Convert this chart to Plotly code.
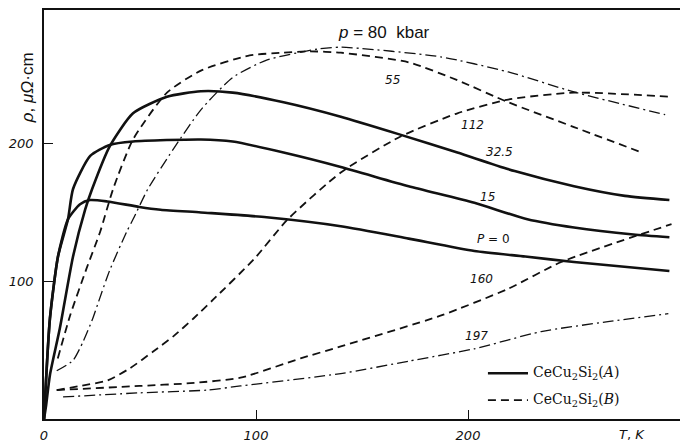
import plotly.graph_objects as go

# ---- data (T in K, rho in micro-ohm cm) ----
T_p0 = [0, 2.8, 6.6, 11.3, 17, 21.7, 29.8, 45, 55, 74, 105, 140, 172, 203, 227, 250, 295]
R_p0 = [0, 73, 118, 145, 156, 159, 158, 154, 152, 150, 146.5, 140, 131, 122, 118, 114, 107.5]

T_p15 = [0, 2.8, 6.6, 11.3, 13.7, 21.8, 31, 42, 74, 89, 113, 140, 172, 203, 228, 250, 278, 295]
R_p15 = [0, 73, 118, 145, 167, 191, 199, 201.5, 203, 201.5, 193.5, 183, 169, 157, 145, 139, 134, 132]

T_p32 = [0, 1, 2.8, 7.5, 13.7, 19.4, 22.7, 31, 42, 58, 74, 89, 113, 140, 168, 195, 222, 250, 274, 295]
R_p32 = [0, 10, 32, 66, 118, 152, 167, 198, 222, 234, 238, 237, 230, 219.5, 206.5, 193.5, 180, 169, 162, 159]

T_p55 = [6.5, 12.5, 20, 26.5, 32.6, 42, 58, 74, 97, 113, 125, 140, 172, 195, 219, 250, 282]
R_p55 = [44, 76, 109, 136, 167, 203, 237, 253, 264, 266, 267, 266, 259, 246, 230, 212, 193.5]

T_p80 = [6, 13.7, 18.4, 23, 25.7, 31, 39, 42, 49, 61, 74, 89, 105, 129, 140, 187, 219, 250, 293]
R_p80 = [35, 42.6, 56, 73, 85, 108, 136, 145, 167, 196, 224.5, 248, 260.6, 268.6, 270, 263, 252, 237.5, 221]

T_p112 = [6, 17, 30, 40.7, 51.5, 61, 70.5, 80, 99, 115, 140, 168, 195, 219, 250, 296]
R_p112 = [21, 24, 28, 37, 49, 60, 73, 87, 116, 145, 179, 205, 222, 232, 237, 234]

T_p160 = [6, 45, 69, 92.7, 121, 140, 187, 219, 244, 296]
R_p160 = [21, 24, 26, 30, 44, 52.7, 75, 94.6, 114, 141.5]

T_p197 = [9, 45, 77, 92.7, 140, 172, 203, 234.5, 266, 294.5]
R_p197 = [16, 19, 21, 24, 33, 42, 51, 63.5, 70.7, 76.5]

curve_labels = ["55", "112", "32.5", "15", "<i>P</i> = 0", "160", "197"]
label_T = [164.6, 201.9, 215, 209.4, 211.8, 206.6, 204.2]
label_R = [246, 213.7, 194, 161, 130.7, 101.8, 60]

x_ticks = [0, 100, 200]
y_ticks = [100, 200]

INK = "#111111"
SOLID = dict(color=INK, width=2.6)
DASHED = dict(color=INK, width=1.8, dash="8px,5px")
DASHDOT = dict(color=INK, width=1.3, dash="11px,4px,2px,4px")

fig = go.Figure()

def add(T, R, line):
    fig.add_trace(go.Scatter(x=T, y=R, mode="lines", line=dict(shape="spline", smoothing=0.6, **line),
                             showlegend=False, hoverinfo="skip"))

add(T_p0, R_p0, SOLID)
add(T_p15, R_p15, SOLID)
add(T_p32, R_p32, SOLID)
add(T_p55, R_p55, DASHED)
add(T_p80, R_p80, DASHDOT)
add(T_p112, R_p112, DASHED)
add(T_p160, R_p160, DASHED)
add(T_p197, R_p197, DASHDOT)

for txt, tx, ry in zip(curve_labels, label_T, label_R):
    fig.add_annotation(x=tx, y=ry, text=f"<i>{txt}</i>" if "<i>" not in txt else txt,
                       showarrow=False, font=dict(family="DejaVu Sans", size=12, color=INK))

# title-like annotation
fig.add_annotation(x=160.4, y=281, text="<i>p</i> = 80  kbar", showarrow=False,
                   font=dict(family="Liberation Sans", size=17, color=INK))
# axis name on x (paper coords so it is not hidden outside the range)
fig.add_annotation(xref="paper", yref="paper", x=0.9245, y=-0.039, xanchor="center", yanchor="middle",
                   text="<i>T</i>, <i>K</i>", showarrow=False,
                   font=dict(family="DejaVu Sans", size=13, color=INK))
# y axis title as rotated text
fig.add_annotation(xref="paper", yref="paper", x=-0.026, y=0.81, xanchor="center", yanchor="middle",
                   text="<i>ρ</i>, <i>μΩ</i>·cm",
                   textangle=-90, showarrow=False, font=dict(family="Liberation Sans", size=17, color=INK))

# legend drawn manually
leg_x0, leg_x1, leg_tx = 209.4, 228.3, 229.5
leg_rows = [33.2, 13.7]
leg_text = ["CeCu<sub>2</sub>Si<sub>2</sub>(<i>A</i>)", "CeCu<sub>2</sub>Si<sub>2</sub>(<i>B</i>)"]
leg_lines = [SOLID, DASHED]
for yv, txt, ln in zip(leg_rows, leg_text, leg_lines):
    fig.add_shape(type="line", x0=leg_x0, x1=leg_x1, y0=yv, y1=yv,
                  line=dict(color=INK, width=ln["width"], dash=ln.get("dash", "solid")))
    fig.add_annotation(x=leg_tx, y=yv, text=txt, xanchor="left", showarrow=False,
                       font=dict(family="DejaVu Serif", size=14, color=INK))

fig.update_layout(
    width=680, height=443,
    margin=dict(l=44, r=0, t=10, b=22),
    paper_bgcolor="white", plot_bgcolor="white",
    showlegend=False,
    xaxis=dict(range=[0, 300], showgrid=False, zeroline=False, showline=True, mirror=True,
               linecolor=INK, linewidth=1.5, ticks="inside", ticklen=9, tickcolor=INK,
               tickvals=x_ticks, ticktext=[str(v) for v in x_ticks], ticklabelstandoff=4,
               tickfont=dict(family="DejaVu Sans", size=13, color=INK, style="italic")),
    yaxis=dict(range=[0, 297], showgrid=False, zeroline=False, showline=True,
               linecolor=INK, linewidth=1.5, ticks="inside", ticklen=9, tickcolor=INK,
               tickvals=y_ticks, ticktext=[str(v) for v in y_ticks], ticklabelstandoff=6,
               tickfont=dict(family="DejaVu Sans", size=13, color=INK, style="italic")),
)

fig.write_html("out.html")
